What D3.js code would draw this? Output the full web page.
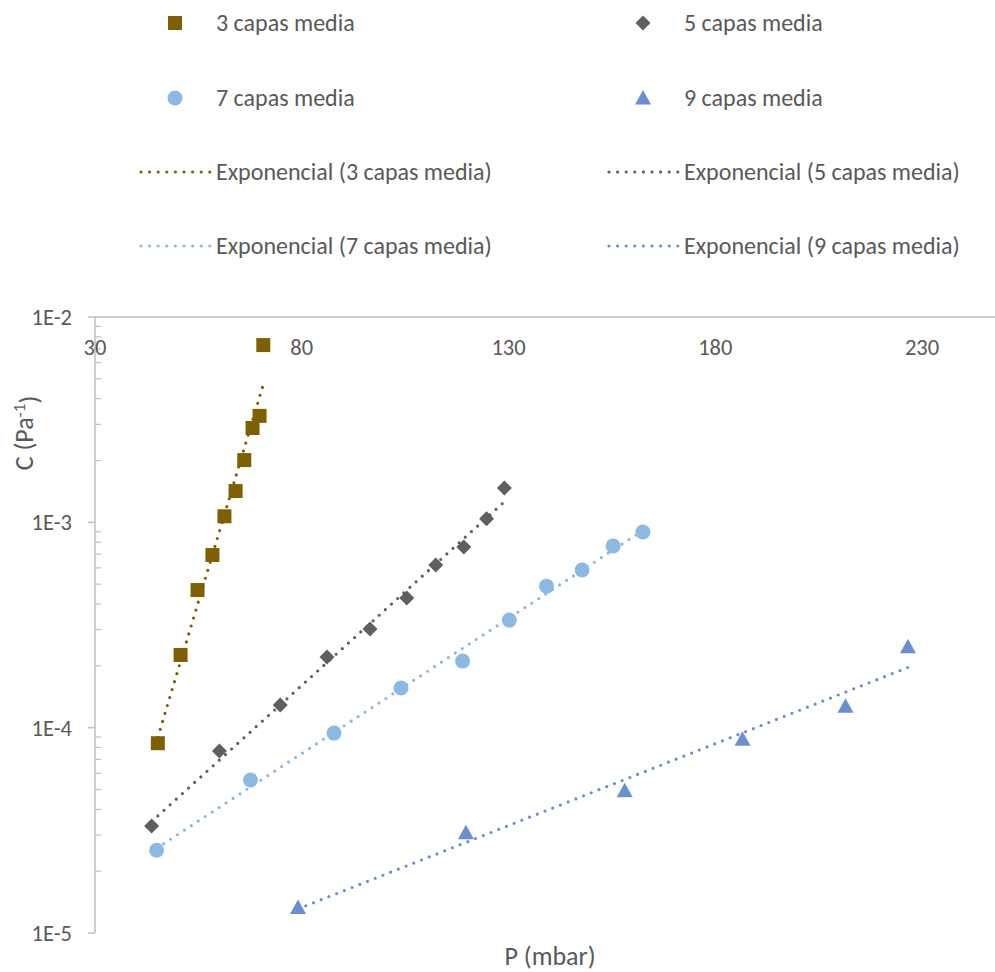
<!DOCTYPE html>
<html>
<head>
<meta charset="utf-8">
<script src="https://cdn.jsdelivr.net/npm/d3@7"></script>
<style>
  body { margin: 0; background: #fff; }
  svg text { font-family: Carlito, Calibri, "Open Sans", sans-serif; fill: #595959; }
</style>
</head>
<body>
<svg id="chart" width="995" height="972"></svg>
<script>
// P (mbar) and C (Pa^-1) for each layer count
var p3 = [45.2, 50.7, 54.8, 58.4, 61.3, 64.0, 66.1, 68.1, 69.8, 70.7];
var c3 = [8.4e-5, 2.26e-4, 4.68e-4, 6.93e-4, 1.07e-3, 1.42e-3, 2.01e-3, 2.88e-3, 3.3e-3, 7.3e-3];

var p5 = [43.7, 60.1, 74.8, 86.1, 96.5, 105.4, 112.4, 119.2, 124.7, 129.0];
var c5 = [3.32e-5, 7.69e-5, 1.29e-4, 2.21e-4, 3.02e-4, 4.28e-4, 6.19e-4, 7.59e-4, 1.04e-3, 1.47e-3];

var p7 = [44.9, 67.6, 87.8, 104.0, 118.9, 130.2, 139.2, 147.8, 155.3, 162.5];
var c7 = [2.53e-5, 5.56e-5, 9.41e-5, 1.56e-4, 2.11e-4, 3.34e-4, 4.89e-4, 5.86e-4, 7.67e-4, 8.97e-4];

var p9 = [79.1, 119.7, 158.1, 186.6, 211.5, 226.6];
var c9 = [1.33e-5, 3.08e-5, 4.93e-5, 8.79e-5, 1.27e-4, 2.48e-4];

var seriesNames = ['3 capas media', '5 capas media', '7 capas media', '9 capas media'];
var seriesColors = ['#7f6000', '#5f5f5f', '#8cb9e2', '#6a8fd0'];
var seriesShapes = ['square', 'diamond', 'circle', 'triangle'];

var xTicks = [30, 80, 130, 180, 230];
var yTicks = [1e-2, 1e-3, 1e-4, 1e-5];
var yTickLabels = ['1E-2', '1E-3', '1E-4', '1E-5'];

var series = [
  { name: seriesNames[0], p: p3, c: c3, color: seriesColors[0], shape: seriesShapes[0] },
  { name: seriesNames[1], p: p5, c: c5, color: seriesColors[1], shape: seriesShapes[1] },
  { name: seriesNames[2], p: p7, c: c7, color: seriesColors[2], shape: seriesShapes[2] },
  { name: seriesNames[3], p: p9, c: c9, color: seriesColors[3], shape: seriesShapes[3] }
];

var svg = d3.select('#chart');
var plot = { left: 95, right: 995, top: 317, bottom: 933 };

// the picture is cut at the right edge, so the axis runs past 230
var x = d3.scaleLinear().domain([30, 230]).range([plot.left, 922]);
var y = d3.scaleLog().domain([1e-5, 1e-2]).range([plot.bottom, plot.top]);

// marker path for a given shape
function markerPath(shape) {
  if (shape === 'square') return 'M-7,-7H7V7H-7Z';
  if (shape === 'diamond') return 'M0,-7.5L7.5,0L0,7.5L-7.5,0Z';
  if (shape === 'triangle') return 'M0,-8L8,6.5H-8Z';
  return d3.symbol().type(d3.symbolCircle).size(Math.PI * 7.5 * 7.5)();
}

// exponential trend: ln(c) = ln(a) + b*p, least squares
function expFit(ps, cs) {
  var n = ps.length;
  var mx = d3.mean(ps);
  var my = d3.mean(cs, function (c) { return Math.log(c); });
  var sxy = 0, sxx = 0;
  for (var i = 0; i < n; i++) {
    sxy += (ps[i] - mx) * (Math.log(cs[i]) - my);
    sxx += (ps[i] - mx) * (ps[i] - mx);
  }
  var b = sxy / sxx;
  var a = Math.exp(my - b * mx);
  return function (p) { return a * Math.exp(b * p); };
}

// ---- axes ----
var axisColor = '#bfbfbf';

// y axis line + major ticks (outside) + minor ticks (inside)
svg.append('line')
  .attr('x1', plot.left).attr('x2', plot.left)
  .attr('y1', plot.top).attr('y2', plot.bottom)
  .attr('stroke', axisColor).attr('stroke-width', 1.5);

svg.selectAll('.ytick')
  .data(yTicks)
  .enter().append('line')
  .attr('x1', plot.left - 7).attr('x2', plot.left)
  .attr('y1', function (d) { return y(d); })
  .attr('y2', function (d) { return y(d); })
  .attr('stroke', axisColor).attr('stroke-width', 1.5);

var minorTicks = [];
[1e-5, 1e-4, 1e-3].forEach(function (base) {
  for (var k = 2; k <= 9; k++) minorTicks.push(base * k);
});
svg.selectAll('.yminor')
  .data(minorTicks)
  .enter().append('line')
  .attr('x1', plot.left).attr('x2', plot.left + 6)
  .attr('y1', function (d) { return y(d); })
  .attr('y2', function (d) { return y(d); })
  .attr('stroke', axisColor).attr('stroke-width', 1.2);

svg.selectAll('.ylabel')
  .data(yTicks)
  .enter().append('text')
  .attr('x', plot.left - 23)
  .attr('y', function (d) { return y(d); })
  .attr('dy', '0.35em')
  .attr('text-anchor', 'end')
  .style('font-size', '22.5px')
  .text(function (d, i) { return yTickLabels[i]; });

// x axis sits on the top edge (crosses at 1E-2)
svg.append('line')
  .attr('x1', plot.left).attr('x2', plot.right)
  .attr('y1', y(1e-2)).attr('y2', y(1e-2))
  .attr('stroke', axisColor).attr('stroke-width', 1.5);

svg.selectAll('.xlabel')
  .data(xTicks)
  .enter().append('text')
  .attr('x', function (d) { return x(d); })
  .attr('y', y(1e-2) + 30)
  .attr('dy', '0.35em')
  .attr('text-anchor', 'middle')
  .style('font-size', '22.5px')
  .text(function (d) { return d; });

// axis titles
var yTitle = svg.append('text')
  .attr('transform', 'translate(24,433) rotate(-90)')
  .attr('text-anchor', 'middle')
  .attr('dy', '0.35em')
  .style('font-size', '26px');
yTitle.append('tspan').text('C (Pa');
yTitle.append('tspan').attr('dy', '-0.5em').style('font-size', '17px').text('-1');
yTitle.append('tspan').attr('dy', '0.5em').text(')');

svg.append('text')
  .attr('x', 550).attr('y', 956)
  .attr('dy', '0.35em')
  .attr('text-anchor', 'middle')
  .style('font-size', '26px')
  .text('P (mbar)');

// ---- trendlines ----
var line = d3.line()
  .x(function (d) { return x(d[0]); })
  .y(function (d) { return y(d[1]); });

series.forEach(function (s) {
  var f = expFit(s.p, s.c);
  var ext = d3.extent(s.p);
  var pts = d3.range(0, 41).map(function (i) {
    var p = ext[0] + (ext[1] - ext[0]) * i / 40;
    return [p, f(p)];
  });
  svg.append('path')
    .datum(pts)
    .attr('d', line)
    .attr('fill', 'none')
    .attr('stroke', s.color)
    .attr('stroke-width', 3.2)
    .attr('stroke-linecap', 'round')
    .attr('stroke-dasharray', '0 8.3');
});

// ---- markers ----
series.forEach(function (s) {
  svg.append('g').selectAll('path')
    .data(d3.zip(s.p, s.c))
    .enter().append('path')
    .attr('d', markerPath(s.shape))
    .attr('transform', function (d) { return 'translate(' + x(d[0]) + ',' + y(d[1]) + ')'; })
    .attr('fill', s.color);
});

// ---- legend ----
var legendCols = [175, 643];
var legendText = [216, 684];
var legendRows = [23, 98, 172, 246];

var legend = svg.append('g');
series.forEach(function (s, i) {
  var col = i % 2;
  var row = Math.floor(i / 2);
  legend.append('path')
    .attr('d', markerPath(s.shape))
    .attr('transform', 'translate(' + legendCols[col] + ',' + legendRows[row] + ')')
    .attr('fill', s.color);
  legend.append('text')
    .attr('x', legendText[col]).attr('y', legendRows[row])
    .attr('dy', '0.35em')
    .style('font-size', '24px')
    .text(s.name);

  var ly = legendRows[row + 2];
  legend.append('line')
    .attr('x1', legendText[col] - 75).attr('x2', legendText[col] - 6)
    .attr('y1', ly).attr('y2', ly)
    .attr('stroke', s.color)
    .attr('stroke-width', 3.2)
    .attr('stroke-linecap', 'round')
    .attr('stroke-dasharray', '0 8.6');
  legend.append('text')
    .attr('x', legendText[col]).attr('y', ly)
    .attr('dy', '0.35em')
    .style('font-size', '24px')
    .text('Exponencial (' + s.name + ')');
});
</script>
</body>
</html>
